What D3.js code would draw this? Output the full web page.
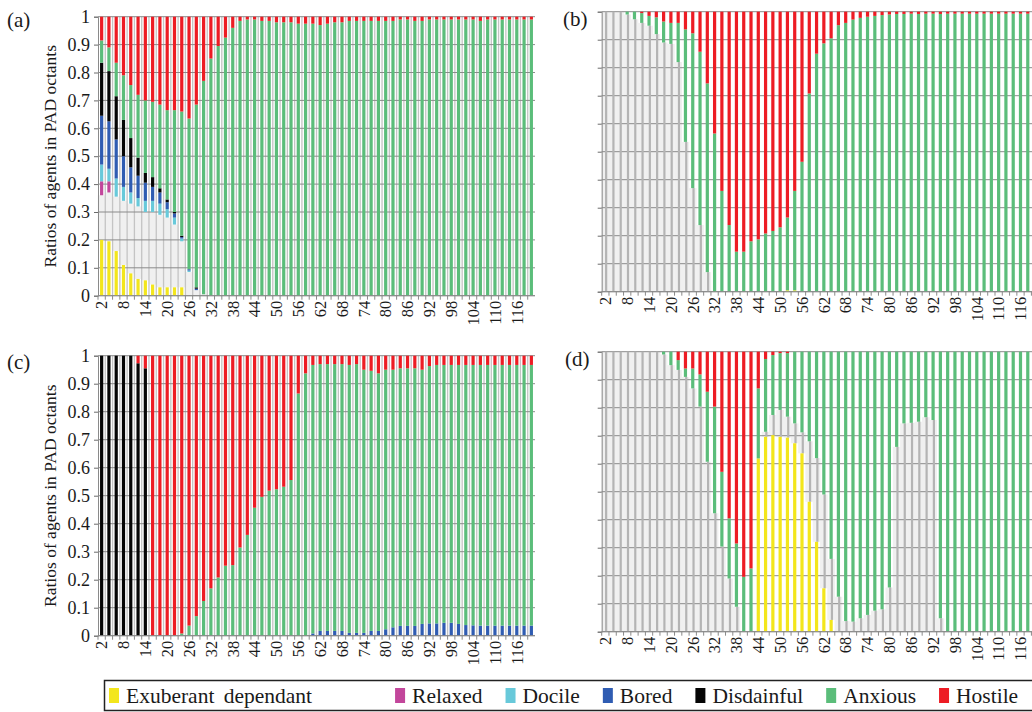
<!DOCTYPE html>
<html><head><meta charset="utf-8">
<script src="https://cdn.jsdelivr.net/npm/d3@7"></script>
<style>
html,body{margin:0;padding:0;background:#fff;overflow:hidden;}
svg{display:block;}
svg text{font-family:"Liberation Serif","DejaVu Serif",serif;}
</style></head><body>
<svg id="chart" width="1032" height="712"></svg>
<script>
// ---------------- DATA ----------------
const categories = [2,4,6,8,10,12,14,16,18,20,
 22,24,26,28,30,32,34,36,38,40,
 42,44,46,48,50,52,54,56,58,60,
 62,64,66,68,70,72,74,76,78,80,
 82,84,86,88,90,92,94,96,98,100,
 102,104,106,108,110,112,114,116,118,120];
const tickLabels = [2,8,14,20,26,32,38,44,50,56,62,68,74,80,86,92,98,104,110,116];
const yTicks = [0,0.1,0.2,0.3,0.4,0.5,0.6,0.7,0.8,0.9,1];
const yTickLabels = ["0","0.1","0.2","0.3","0.4","0.5","0.6","0.7","0.8","0.9","1"];
const seriesKeys = ["exuberant","dependant","relaxed","docile","bored","disdainful","anxious","hostile"];
const legendKeys = ["exuberant","relaxed","docile","bored","disdainful","anxious","hostile"];
const legendLabels = ["Exuberant dependant","Relaxed","Docile","Bored","Disdainful","Anxious","Hostile"];
const yTitle = "Ratios of agents in PAD octants";

// Panel (a)
const A_exuberant = [0.2,0.195,0.16,0.11,0.08,0.06,0.055,0.04,0.03,0.03,
 0.03,0.03,0,0,0,0,0,0,0,0,
 0,0,0,0,0,0,0,0,0,0, 0,0,0,0,0,0,0,0,0,0,
 0,0,0,0,0,0,0,0,0,0, 0,0,0,0,0,0,0,0,0,0];
const A_dependant = [0.16,0.175,0.195,0.23,0.25,0.26,0.245,0.26,0.26,0.25,
 0.225,0.165,0.085,0.02,0.005,0,0,0,0,0,
 0,0,0,0,0,0,0,0,0,0, 0,0,0,0,0,0,0,0,0,0,
 0,0,0,0,0,0,0,0,0,0, 0,0,0,0,0,0,0,0,0,0];
const A_relaxed = [0.05,0.04,0,0,0,0,0,0,0,0,
 0,0,0,0,0,0,0,0,0,0, 0,0,0,0,0,0,0,0,0,0, 0,0,0,0,0,0,0,0,0,0,
 0,0,0,0,0,0,0,0,0,0, 0,0,0,0,0,0,0,0,0,0];
const A_docile = [0.06,0.045,0.065,0.05,0.04,0.03,0.04,0.04,0.04,0.03,
 0.025,0.01,0.005,0,0,0,0,0,0,0,
 0,0,0,0,0,0,0,0,0,0, 0,0,0,0,0,0,0,0,0,0,
 0,0,0,0,0,0,0,0,0,0, 0,0,0,0,0,0,0,0,0,0];
const A_bored = [0.175,0.17,0.14,0.11,0.09,0.08,0.065,0.05,0.04,0.025,
 0.015,0.005,0.005,0.005,0,0,0,0,0,0,
 0,0,0,0,0,0,0,0,0,0, 0,0,0,0,0,0,0,0,0,0,
 0,0,0,0,0,0,0,0,0,0, 0,0,0,0,0,0,0,0,0,0];
const A_disdainful = [0.19,0.18,0.155,0.13,0.105,0.065,0.035,0.035,0.015,0.01,
 0.005,0.005,0,0.005,0,0,0,0,0,0,
 0,0,0,0,0,0,0,0,0,0, 0,0,0,0,0,0,0,0,0,0,
 0,0,0,0,0,0,0,0,0,0, 0,0,0,0,0,0,0,0,0,0];
const A_anxious = [0.08,0.085,0.12,0.16,0.19,0.225,0.26,0.27,0.30,0.32,
 0.365,0.445,0.54,0.655,0.765,0.85,0.895,0.925,0.96,0.985,
 0.99,0.99,0.985,0.985,0.98,0.98,0.98,0.975,0.975,0.975,
 0.97,0.975,0.98,0.98,0.985,0.985,0.985,0.985,0.985,0.985,
 0.985,0.99,0.99,0.985,0.985,0.99,0.99,0.99,0.99,0.99,
 0.99,0.99,0.985,0.99,0.99,0.99,0.99,0.99,0.99,0.99];
const A_hostile = [0.085,0.11,0.165,0.21,0.245,0.28,0.30,0.305,0.315,0.335,
 0.335,0.34,0.365,0.315,0.23,0.15,0.105,0.075,0.04,0.015,
 0.01,0.01,0.015,0.015,0.02,0.02,0.02,0.025,0.025,0.025,
 0.03,0.025,0.02,0.02,0.015,0.015,0.015,0.015,0.015,0.015,
 0.015,0.01,0.01,0.015,0.015,0.01,0.01,0.01,0.01,0.01,
 0.01,0.01,0.015,0.01,0.01,0.01,0.01,0.01,0.01,0.01];

// Panel (b)
const B_exuberant = [0,0,0,0,0,0,0,0,0,0, 0,0,0,0,0,0,0,0,0,0,
 0,0,0,0,0,0.005,0.005,0,0,0,
 0,0,0,0,0,0,0,0,0,0, 0,0,0,0,0,0,0,0,0,0, 0,0,0,0,0,0,0,0,0,0];
const B_dependant = [1,1,1,0.99,0.973,0.96,0.95,0.92,0.89,0.885,
 0.82,0.535,0.37,0.238,0.07,0,0,0,0,0,
 0,0,0,0,0,0,0,0,0,0, 0,0,0,0,0,0,0,0,0,0,
 0,0,0,0,0,0,0,0,0,0, 0,0,0,0,0,0,0,0,0,0];
const B_anxious = [0,0,0,0.01,0.027,0.035,0.035,0.06,0.075,0.075,
 0.14,0.402,0.553,0.619,0.674,0.565,0.36,0.238,0.143,0.143,
 0.18,0.187,0.208,0.217,0.23,0.26,0.355,0.464,0.708,0.85,
 0.887,0.905,0.952,0.96,0.972,0.978,0.982,0.985,0.988,0.99,
 0.992,0.992,0.993,0.992,0.993,0.993,0.992,0.993,0.993,0.993,
 0.993,0.993,0.993,0.993,0.993,0.993,0.993,0.993,0.993,0.993];
const B_hostile = [0,0,0,0,0,0.005,0.015,0.02,0.035,0.04,
 0.04,0.063,0.077,0.143,0.256,0.435,0.64,0.762,0.857,0.857,
 0.82,0.813,0.792,0.783,0.77,0.735,0.64,0.536,0.292,0.15,
 0.113,0.095,0.048,0.04,0.028,0.022,0.018,0.015,0.012,0.01,
 0.008,0.008,0.007,0.008,0.007,0.007,0.008,0.007,0.007,0.007,
 0.007,0.007,0.007,0.007,0.007,0.007,0.007,0.007,0.007,0.007];

// Panel (c)
const C_disdainful = [1,1,1,1,1,0.973,0.955,0,0,0,
 0,0,0,0,0,0,0,0,0,0, 0,0,0,0,0,0,0,0,0,0, 0,0,0,0,0,0,0,0,0,0,
 0,0,0,0,0,0,0,0,0,0, 0,0,0,0,0,0,0,0,0,0];
const C_bored = [0,0,0,0,0,0,0,0,0,0, 0,0,0,0,0,0,0,0,0,0,
 0,0,0,0,0,0,0,0,0,0.008,
 0.017,0.017,0.017,0.017,0.01,0.01,0.01,0.017,0.017,0.023,
 0.03,0.035,0.035,0.035,0.042,0.044,0.044,0.046,0.046,0.042,
 0.038,0.037,0.036,0.036,0.036,0.036,0.036,0.036,0.036,0.036];
const C_anxious = [0,0,0,0,0,0,0,0,0,0,
 0,0.008,0.036,0.07,0.124,0.169,0.208,0.25,0.252,0.315,
 0.36,0.457,0.496,0.518,0.523,0.532,0.556,0.865,0.937,0.959,
 0.953,0.953,0.953,0.953,0.957,0.96,0.94,0.929,0.92,0.927,
 0.92,0.92,0.92,0.92,0.908,0.919,0.923,0.921,0.921,0.925,
 0.929,0.93,0.931,0.931,0.931,0.931,0.931,0.931,0.931,0.931];
const C_hostile = [0,0,0,0,0,0.027,0.045,1,1,1,
 1,0.992,0.964,0.93,0.876,0.831,0.792,0.75,0.748,0.685,
 0.64,0.543,0.504,0.482,0.477,0.468,0.444,0.135,0.063,0.033,
 0.03,0.03,0.03,0.03,0.033,0.03,0.05,0.054,0.063,0.05,
 0.05,0.045,0.045,0.045,0.05,0.037,0.033,0.033,0.033,0.033,
 0.033,0.033,0.033,0.033,0.033,0.033,0.033,0.033,0.033,0.033];

// Panel (d)
const D_exuberant = [0,0,0,0,0,0,0,0,0,0, 0,0,0,0,0,0,0,0,0,0,
 0,0.619,0.696,0.702,0.696,0.693,0.673,0.637,0.464,0.321,
 0.155,0.042,0,0,0,0,0,0,0,0,
 0,0,0,0,0,0,0,0,0,0, 0,0,0,0,0,0,0,0,0,0];
const D_dependant = [1,1,1,1,1,1,1,1,0.99,0.952,
 0.935,0.91,0.869,0.804,0.607,0.423,0.304,0.19,0.089,0,
 0,0,0.018,0.072,0.096,0.075,0.071,0.075,0.216,0.299,
 0.335,0.218,0.125,0.038,0.036,0.048,0.06,0.075,0.08,0.158,
 0.66,0.744,0.746,0.75,0.766,0.756,0.048,0,0,0,
 0,0,0,0,0,0,0,0,0,0];
const D_anxious = [0,0,0,0,0,0,0,0,0.01,0.048,
 0.035,0.03,0.071,0.115,0.25,0.381,0.267,0.215,0.226,0.196,
 0.226,0.25,0.26,0.214,0.203,0.227,0.256,0.288,0.32,0.38,
 0.51,0.74,0.875,0.962,0.964,0.952,0.94,0.925,0.92,0.842,
 0.34,0.256,0.254,0.25,0.234,0.244,0.952,1,1,1,
 1,1,1,1,1,1,1,1,1,1];
const D_hostile = [0,0,0,0,0,0,0,0,0,0,
 0.03,0.06,0.06,0.081,0.143,0.196,0.429,0.595,0.685,0.804,
 0.774,0.131,0.026,0.012,0.005,0.005,0,0,0,0,
 0,0,0,0,0,0,0,0,0,0, 0,0,0,0,0,0,0,0,0,0, 0,0,0,0,0,0,0,0,0,0];

// ---------------- STYLE ----------------
const FONT = "'Liberation Serif', 'DejaVu Serif', serif";
const colors = {
  exuberant:"#f3e61c", dependant:"#f0f0f0", relaxed:"#c2469b", docile:"#68c9da",
  bored:"#2f5cb2", disdainful:"#050505", anxious:"#5bbd7a", hostile:"#ed1c24"
};

const panels = [
  {label:"(a)", lx:7, ly:27, x0:98, x1:535, y0:16.7, y1:295.7, showY:true, gapLines:true, depStripe:false,
   series:{exuberant:A_exuberant, dependant:A_dependant, relaxed:A_relaxed, docile:A_docile,
           bored:A_bored, disdainful:A_disdainful, anxious:A_anxious, hostile:A_hostile}},
  {label:"(b)", lx:563, ly:26, x0:601.7, x1:1038.7, y0:11.7, y1:291.7, showY:false, gapLines:false, depStripe:true,
   series:{exuberant:B_exuberant, dependant:B_dependant, anxious:B_anxious, hostile:B_hostile}},
  {label:"(c)", lx:7, ly:369, x0:98, x1:535, y0:355.7, y1:635.7, showY:true, gapLines:true, depStripe:false,
   series:{disdainful:C_disdainful, bored:C_bored, anxious:C_anxious, hostile:C_hostile}},
  {label:"(d)", lx:565, ly:366, x0:601.7, x1:1038.7, y0:351.7, y1:631.7, showY:false, gapLines:false, depStripe:true,
   series:{exuberant:D_exuberant, dependant:D_dependant, anxious:D_anxious, hostile:D_hostile}}
];

const svg = d3.select("#chart");
svg.append("rect").attr("width",1032).attr("height",712).attr("fill","#fff");

const stack = d3.stack().keys(seriesKeys).value((d,k)=> d[k] || 0);

function drawPanel(cfg){
  const g = svg.append("g");
  const x = d3.scaleBand().domain(categories).range([cfg.x0, cfg.x1]).paddingInner(0).paddingOuter(0);
  const y = d3.scaleLinear().domain([0,1]).range([cfg.y1, cfg.y0]);
  const rows = categories.map((c,i)=>{
    const r = {cat:c};
    for (const k in cfg.series) r[k] = cfg.series[k][i];
    return r;
  });
  const stacked = stack(rows);
  const bw = x.bandwidth()*0.44;
  const off = (x.bandwidth()-bw)/2;

  const dep = stacked.find(s=>s.key==="dependant");
  g.append("g").selectAll("rect").data(dep.filter(d=>d[1]-d[0]>0)).join("rect")
    .attr("x", d=>x(d.data.cat)-0.2).attr("width", x.bandwidth()+0.4)
    .attr("y", d=>y(d[1])).attr("height", d=>y(d[0])-y(d[1]))
    .attr("fill", colors.dependant);

  if (cfg.gapLines){
    g.append("g").selectAll("line").data(categories.slice(1)).join("line")
      .attr("x1", c=>x(c)).attr("x2", c=>x(c))
      .attr("y1", y(1)).attr("y2", y(0))
      .attr("stroke","#c4c4c4").attr("stroke-width",1.3);
  }

  g.append("g").selectAll("line").data(yTicks).join("line")
    .attr("x1", cfg.x0).attr("x2", cfg.x1)
    .attr("y1", d=>y(d)).attr("y2", d=>y(d))
    .attr("stroke","#8a8a8a").attr("stroke-width",1);

  if (cfg.depStripe){
    g.append("g").selectAll("rect").data(dep.filter(d=>d[1]-d[0]>0)).join("rect")
      .attr("x", d=>x(d.data.cat)+x.bandwidth()/2-0.3).attr("width", 2.2)
      .attr("y", d=>y(d[1])).attr("height", d=>y(d[0])-y(d[1]))
      .attr("fill", "#b4b4b4");
  }

  stacked.forEach(s=>{
    if (s.key==="dependant") return;
    g.append("g").selectAll("rect").data(s.filter(d=>d[1]-d[0]>0)).join("rect")
      .attr("x", d=>x(d.data.cat)+off).attr("width", bw)
      .attr("y", d=>y(d[1])).attr("height", d=>y(d[0])-y(d[1]))
      .attr("fill", colors[s.key]);
  });

  const yAxis = d3.axisLeft(y).tickValues(yTicks).tickSize(4).tickPadding(4)
    .tickFormat((d,i)=> cfg.showY ? yTickLabels[i] : "");
  const ya = g.append("g").attr("transform",`translate(${cfg.x0},0)`).call(yAxis)
    .attr("font-family", FONT);
  ya.select(".domain").attr("stroke","#8a8a8a");
  ya.selectAll(".tick line").attr("stroke","#6a6a6a");
  ya.selectAll(".tick text").attr("font-size",18).attr("fill","#1a1a1a")
    .attr("font-family", FONT).style("font-family", FONT);

  g.append("line").attr("x1",cfg.x0).attr("x2",cfg.x1).attr("y1",y(0)).attr("y2",y(0))
    .attr("stroke","#8a8a8a");
  g.append("g").selectAll("line").data(categories).join("line")
    .attr("x1", c=>x(c)).attr("x2", c=>x(c))
    .attr("y1", y(0)).attr("y2", y(0)+4).attr("stroke","#8a8a8a");
  g.append("g").selectAll("text").data(tickLabels).join("text")
    .attr("transform", c=>`translate(${x(c)+x.bandwidth()/2},${y(0)+5}) rotate(-90)`)
    .attr("text-anchor","end").attr("dy","0.35em")
    .style("font-family", FONT)
    .attr("font-size",16.5).attr("fill","#1a1a1a").text(c=>c);

  svg.append("text").attr("x",cfg.lx).attr("y",cfg.ly).attr("font-size",21)
    .style("font-family", FONT).attr("fill","#1a1a1a").text(cfg.label);

  if (cfg.showY){
    svg.append("text")
      .attr("transform",`translate(50,${(cfg.y0+cfg.y1)/2}) rotate(-90)`)
      .attr("text-anchor","middle").attr("dy","0.35em")
      .style("font-family", FONT)
      .attr("font-size",17.5).attr("fill","#1a1a1a").text(yTitle);
  }
}
panels.forEach(drawPanel);

// legend
const lg = svg.append("g");
lg.append("rect").attr("x",104.5).attr("y",680.5).attr("width",960).attr("height",30)
  .attr("fill","#fff").attr("stroke","#222").attr("stroke-width",1.5);
let lx = 109;
legendKeys.forEach((k,i)=>{
  lg.append("rect").attr("x",lx).attr("y",688).attr("width",10).attr("height",15).attr("fill",colors[k]);
  const t = lg.append("text").attr("x",lx+17).attr("y",703).attr("font-size",21.5)
    .style("font-family", FONT)
    .attr("fill","#1a1a1a").attr("word-spacing","4px").text(legendLabels[i]);
  const w = t.node().getComputedTextLength();
  lx = lx + 17 + w + (i===0 ? 83 : 23);
});
</script>
</body></html>
